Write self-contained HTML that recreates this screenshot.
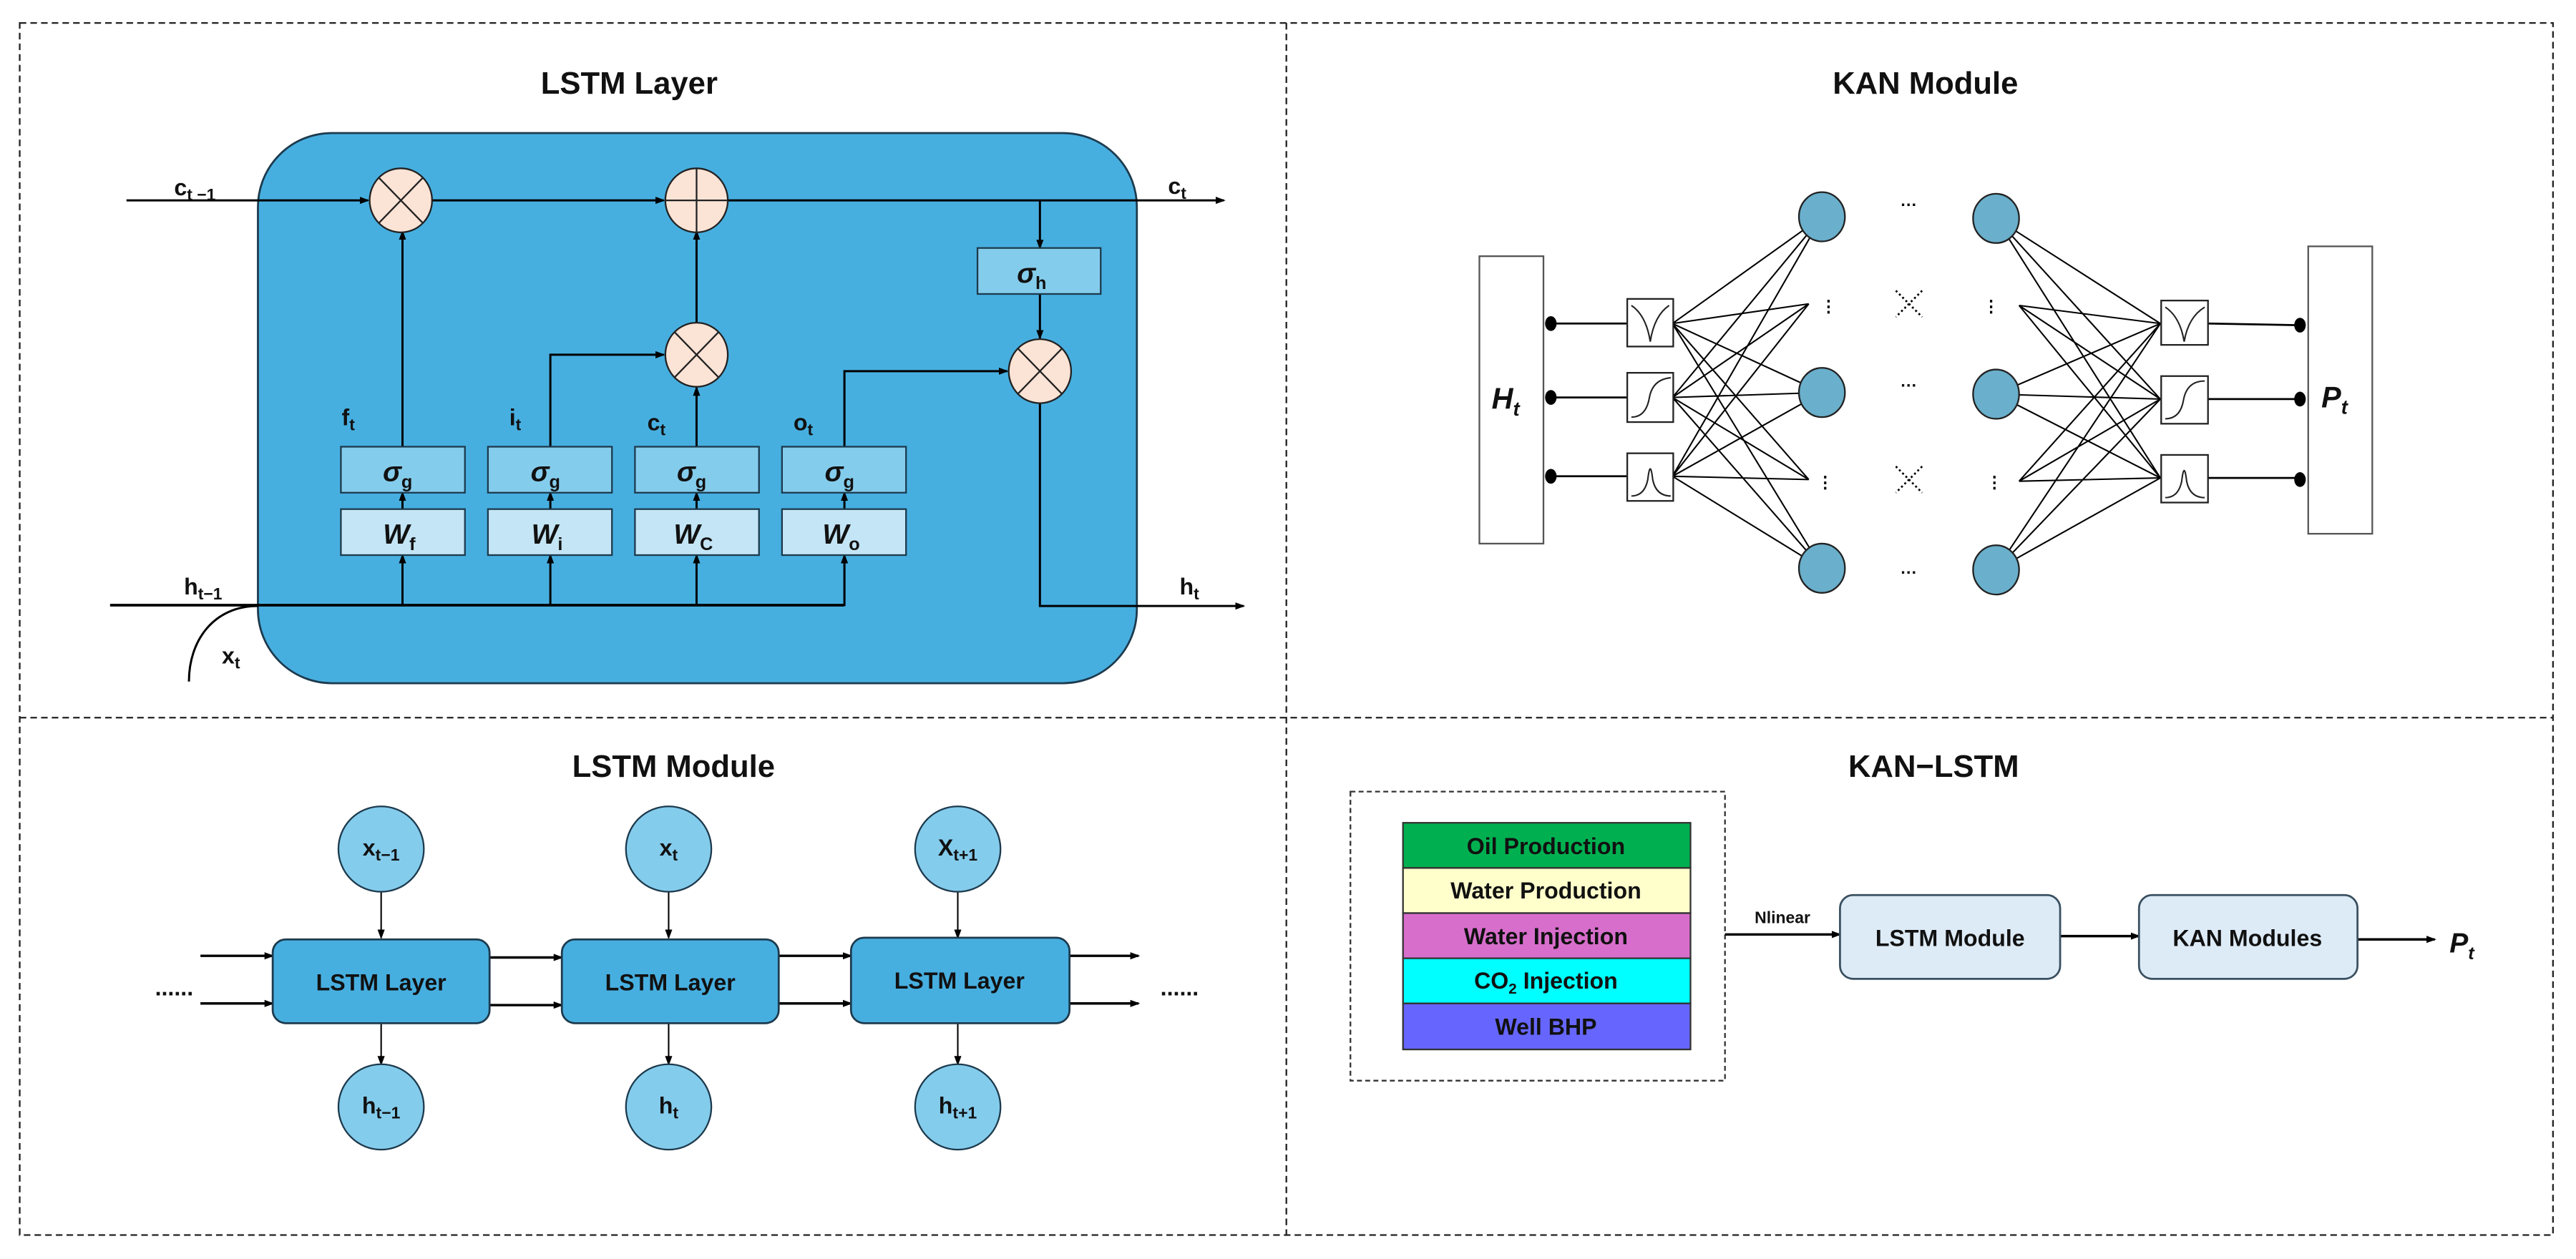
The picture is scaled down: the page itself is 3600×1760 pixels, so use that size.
<!DOCTYPE html>
<html><head><meta charset="utf-8"><style>
html,body{margin:0;padding:0;background:#fff;}
svg{display:block;}
text{font-family:"Liberation Sans",sans-serif;}
</style></head><body>
<svg width="3600" height="1760" viewBox="0 0 1568 766.6" preserveAspectRatio="none" xmlns="http://www.w3.org/2000/svg">
<defs>
<marker id="a" markerWidth="6" markerHeight="6" refX="5" refY="3" orient="auto" markerUnits="userSpaceOnUse"><path d="M0,0.8 L6,3 L0,5.2z" fill="#000"/></marker>
</defs>
<!-- frame -->
<g fill="none" stroke="#222" stroke-width="1" stroke-dasharray="4,2.5">
<rect x="12" y="14" width="1542" height="738"/>
<line x1="783" y1="14" x2="783" y2="752"/>
<line x1="12" y1="437" x2="1554" y2="437"/>
</g>
<g font-weight="bold" font-size="19" text-anchor="middle" fill="#111">
<text x="383" y="57">LSTM Layer</text>
<text x="1172" y="57">KAN Module</text>
<text x="410" y="473">LSTM Module</text>
<text x="1177" y="473">KAN−LSTM</text>
</g>

<!-- LSTM Layer cell -->
<rect x="157" y="81" width="535" height="335" rx="45" fill="#47AFE0" stroke="#1d3a4d" stroke-width="1.2"/>
<g stroke="#000" stroke-width="1.3" fill="none">
<line x1="77" y1="122" x2="224" y2="122" marker-end="url(#a)"/>
<line x1="263" y1="122" x2="404" y2="122" marker-end="url(#a)"/>
<line x1="443" y1="122" x2="745" y2="122" marker-end="url(#a)"/>
<line x1="633" y1="122" x2="633" y2="151" marker-end="url(#a)"/>
<line x1="633" y1="179" x2="633" y2="206" marker-end="url(#a)"/>
<line x1="245" y1="272" x2="245" y2="141" marker-end="url(#a)"/>
<polyline points="335,272 335,216 404,216" marker-end="url(#a)"/>
<line x1="424" y1="272" x2="424" y2="236" marker-end="url(#a)"/>
<line x1="424" y1="197" x2="424" y2="141" marker-end="url(#a)"/>
<polyline points="514,272 514,226 613,226" marker-end="url(#a)"/>
<polyline points="633,245 633,369 757,369" marker-end="url(#a)"/>
<line x1="67" y1="368.5" x2="514" y2="368.5" stroke-width="1.6"/>
<path d="M115,415 C115,390 130,369 157,369"/>
<line x1="245" y1="369" x2="245" y2="338" marker-end="url(#a)"/>
<line x1="335" y1="369" x2="335" y2="338" marker-end="url(#a)"/>
<line x1="424" y1="369" x2="424" y2="338" marker-end="url(#a)"/>
<line x1="514" y1="369" x2="514" y2="338" marker-end="url(#a)"/>
<line x1="245" y1="310" x2="245" y2="300" marker-end="url(#a)"/>
<line x1="335" y1="310" x2="335" y2="300" marker-end="url(#a)"/>
<line x1="424" y1="310" x2="424" y2="300" marker-end="url(#a)"/>
<line x1="514" y1="310" x2="514" y2="300" marker-end="url(#a)"/>
</g>
<g stroke="#222" stroke-width="1" fill="#FBE3D5">
<ellipse cx="244" cy="122" rx="19" ry="19.5"/>
<ellipse cx="424" cy="122" rx="19" ry="19.5"/>
<ellipse cx="424" cy="216" rx="19" ry="19.5"/>
<ellipse cx="633" cy="226" rx="19" ry="19.5"/>
</g>
<g stroke="#222" stroke-width="1">
<path d="M230.6,108.2 L257.4,135.8 M257.4,108.2 L230.6,135.8"/>
<path d="M424,102.5 V141.5 M405,122 H443"/>
<path d="M410.6,202.2 L437.4,229.8 M437.4,202.2 L410.6,229.8"/>
<path d="M619.6,212.2 L646.4,239.8 M646.4,212.2 L619.6,239.8"/>
</g>
<g stroke="#1d3a4d" stroke-width="1">
<rect x="595" y="151" width="75" height="28" fill="#84CCEC"/>
<rect x="207.5" y="272" width="75.5" height="28" fill="#84CCEC"/>
<rect x="297" y="272" width="75.5" height="28" fill="#84CCEC"/>
<rect x="386.5" y="272" width="75.5" height="28" fill="#84CCEC"/>
<rect x="476" y="272" width="75.5" height="28" fill="#84CCEC"/>
<rect x="207.5" y="310" width="75.5" height="28" fill="#C3E5F5"/>
<rect x="297" y="310" width="75.5" height="28" fill="#C3E5F5"/>
<rect x="386.5" y="310" width="75.5" height="28" fill="#C3E5F5"/>
<rect x="476" y="310" width="75.5" height="28" fill="#C3E5F5"/>
</g>
<g font-family="Liberation Serif,serif" font-style="italic" font-weight="bold" font-size="17" fill="#111" text-anchor="middle">
<text x="628" y="172">σ<tspan font-family="Liberation Sans,sans-serif" font-style="normal" font-size="11" dy="4">h</tspan></text>
<text x="242" y="293">σ<tspan font-family="Liberation Sans,sans-serif" font-style="normal" font-size="11" dy="4">g</tspan></text>
<text x="332" y="293">σ<tspan font-family="Liberation Sans,sans-serif" font-style="normal" font-size="11" dy="4">g</tspan></text>
<text x="421" y="293">σ<tspan font-family="Liberation Sans,sans-serif" font-style="normal" font-size="11" dy="4">g</tspan></text>
<text x="511" y="293">σ<tspan font-family="Liberation Sans,sans-serif" font-style="normal" font-size="11" dy="4">g</tspan></text>
<text x="243" y="331">W<tspan font-family="Liberation Sans,sans-serif" font-style="normal" font-size="11" dy="4">f</tspan></text>
<text x="333" y="331">W<tspan font-family="Liberation Sans,sans-serif" font-style="normal" font-size="11" dy="4">i</tspan></text>
<text x="422" y="331">W<tspan font-family="Liberation Sans,sans-serif" font-style="normal" font-size="11" dy="4">C</tspan></text>
<text x="512" y="331">W<tspan font-family="Liberation Sans,sans-serif" font-style="normal" font-size="11" dy="4">o</tspan></text>
</g>
<g font-weight="bold" font-size="14" fill="#111">
<text x="106" y="119">c<tspan font-size="10" dy="3">t −1</tspan></text>
<text x="711" y="118">c<tspan font-size="10" dy="3">t</tspan></text>
<text x="208" y="259">f<tspan font-size="10" dy="3">t</tspan></text>
<text x="310" y="259">i<tspan font-size="10" dy="3">t</tspan></text>
<text x="394" y="262">c<tspan font-size="10" dy="3">t</tspan></text>
<text x="483" y="262">o<tspan font-size="10" dy="3">t</tspan></text>
<text x="112" y="362">h<tspan font-size="10" dy="3">t−1</tspan></text>
<text x="718" y="362">h<tspan font-size="10" dy="3">t</tspan></text>
<text x="135" y="404">x<tspan font-size="10" dy="3">t</tspan></text>
</g>

<!-- KAN module -->
<g stroke="#555" stroke-width="1" fill="#fff">
<rect x="900.5" y="156" width="39" height="175"/>
<rect x="1405" y="150" width="39" height="175"/>
</g>
<g stroke="#000" stroke-width="0.9" fill="none">
<!-- left connections -->
<path d="M1018,197 L1109,132 M1018,197 L1101,185 M1018,197 L1109,239 M1018,197 L1101,292 M1018,197 L1109,346
M1018,242 L1109,132 M1018,242 L1101,185 M1018,242 L1109,239 M1018,242 L1101,292 M1018,242 L1109,346
M1018,290 L1109,132 M1018,290 L1101,185 M1018,290 L1109,239 M1018,290 L1101,292 M1018,290 L1109,346"/>
<path d="M1315,197 L1215,133 M1315,197 L1229,186 M1315,197 L1215,240 M1315,197 L1229,293 M1315,197 L1215,347
M1315,243 L1215,133 M1315,243 L1229,186 M1315,243 L1215,240 M1315,243 L1229,293 M1315,243 L1215,347
M1315,291 L1215,133 M1315,291 L1229,186 M1315,291 L1215,240 M1315,291 L1229,293 M1315,291 L1215,347"/>
<path d="M944,197 H990 M944,242 H990 M944,290 H990 M1344,197 L1400,198 M1344,243 H1400 M1344,291 H1400" stroke-width="1.2"/>
</g>
<g fill="#000">
<ellipse cx="944" cy="197" rx="3.5" ry="4.5"/><ellipse cx="944" cy="242" rx="3.5" ry="4.5"/><ellipse cx="944" cy="290" rx="3.5" ry="4.5"/>
<ellipse cx="1400" cy="198" rx="3.5" ry="4.5"/><ellipse cx="1400" cy="243" rx="3.5" ry="4.5"/><ellipse cx="1400" cy="292" rx="3.5" ry="4.5"/>
</g>
<g stroke="#222" stroke-width="1" fill="#fff">
<rect x="990.5" y="182" width="28" height="29"/>
<rect x="990.5" y="227" width="28" height="30"/>
<rect x="990.5" y="276" width="28" height="29"/>
<rect x="1315.5" y="183" width="28.5" height="27"/>
<rect x="1315.5" y="229" width="28.5" height="29"/>
<rect x="1315.5" y="277" width="28.5" height="29"/>
</g>
<g stroke="#222" stroke-width="0.9" fill="none">
<path d="M993,186 Q1002,192 1004.5,208 Q1007,192 1016,186"/>
<path d="M993,254 Q1002,254 1004,242 Q1006,231 1017,230"/>
<path d="M993,302 Q1001,302 1003,292 Q1004.5,279 1006,292 Q1008,302 1017,302"/>
<path d="M1318,187 Q1327,193 1329.5,208 Q1332,193 1342,187"/>
<path d="M1318,255 Q1327,255 1329,244 Q1331,232 1342,232"/>
<path d="M1318,303 Q1326,303 1328,293 Q1329.5,280 1331,293 Q1333,303 1342,303"/>
</g>
<g fill="#6AAFCB" stroke="#222" stroke-width="1">
<ellipse cx="1109" cy="132" rx="14" ry="15"/>
<ellipse cx="1109" cy="239" rx="14" ry="15"/>
<ellipse cx="1109" cy="346" rx="14" ry="15"/>
<ellipse cx="1215" cy="133" rx="14" ry="15"/>
<ellipse cx="1215" cy="240" rx="14" ry="15"/>
<ellipse cx="1215" cy="347" rx="14" ry="15"/>
</g>
<g fill="#000" font-size="10" text-anchor="middle" font-weight="bold">
<text x="1162" y="128">···</text><text x="1162" y="238">···</text><text x="1162" y="352">···</text>
<text x="1113" y="190">⋮</text><text x="1212" y="190">⋮</text>
<text x="1111" y="297">⋮</text><text x="1214" y="297">⋮</text>
</g>
<g stroke="#000" stroke-width="1.2" stroke-dasharray="1.2,1.6">
<path d="M1154,177 L1170,193 M1170,177 L1154,193"/>
<path d="M1154,284 L1170,300 M1170,284 L1154,300"/>
</g>
<g font-family="Liberation Serif,serif" font-style="italic" font-weight="bold" font-size="18" fill="#111">
<text x="908" y="249">H<tspan font-size="12" dy="4">t</tspan></text>
<text x="1413" y="248">P<tspan font-size="12" dy="4">t</tspan></text>
</g>

<!-- LSTM module -->
<g stroke="#000" stroke-width="1.5" fill="none">
<line x1="122" y1="582" x2="166" y2="582" marker-end="url(#a)"/>
<line x1="122" y1="611" x2="166" y2="611" marker-end="url(#a)"/>
<line x1="298" y1="583" x2="342" y2="583" marker-end="url(#a)"/>
<line x1="298" y1="612" x2="342" y2="612" marker-end="url(#a)"/>
<line x1="474" y1="582" x2="518" y2="582" marker-end="url(#a)"/>
<line x1="474" y1="611" x2="518" y2="611" marker-end="url(#a)"/>
<line x1="651" y1="582" x2="693" y2="582" marker-end="url(#a)"/>
<line x1="651" y1="611" x2="693" y2="611" marker-end="url(#a)"/>
</g>
<g stroke="#000" stroke-width="0.9">
<line x1="232" y1="543" x2="232" y2="571" marker-end="url(#a)"/>
<line x1="407" y1="543" x2="407" y2="571" marker-end="url(#a)"/>
<line x1="583" y1="543" x2="583" y2="571" marker-end="url(#a)"/>
<line x1="232" y1="623" x2="232" y2="648" marker-end="url(#a)"/>
<line x1="407" y1="623" x2="407" y2="648" marker-end="url(#a)"/>
<line x1="583" y1="623" x2="583" y2="648" marker-end="url(#a)"/>
</g>
<g fill="#47AFE0" stroke="#1d3a4d" stroke-width="1.2">
<rect x="166" y="572" width="132" height="51" rx="8"/>
<rect x="342" y="572" width="132" height="51" rx="8"/>
<rect x="518" y="571" width="133" height="52" rx="8"/>
</g>
<g fill="#84CCEC" stroke="#1d3a4d" stroke-width="1">
<circle cx="232" cy="517" r="26"/><circle cx="407" cy="517" r="26"/><circle cx="583" cy="517" r="26"/>
<circle cx="232" cy="674" r="26"/><circle cx="407" cy="674" r="26"/><circle cx="583" cy="674" r="26"/>
</g>
<g font-weight="bold" font-size="14" fill="#111" text-anchor="middle">
<text x="232" y="603">LSTM  Layer</text>
<text x="408" y="603">LSTM  Layer</text>
<text x="584" y="602">LSTM  Layer</text>
<text x="106" y="606">......</text><text x="718" y="606">......</text>
<text x="232" y="521">x<tspan font-size="10" dy="3">t−1</tspan></text>
<text x="407" y="521">x<tspan font-size="10" dy="3">t</tspan></text>
<text x="583" y="521">X<tspan font-size="10" dy="3">t+1</tspan></text>
<text x="232" y="678">h<tspan font-size="10" dy="3">t−1</tspan></text>
<text x="407" y="678">h<tspan font-size="10" dy="3">t</tspan></text>
<text x="583" y="678">h<tspan font-size="10" dy="3">t+1</tspan></text>
</g>

<!-- KAN-LSTM -->
<rect x="822" y="482" width="228" height="176" fill="none" stroke="#333" stroke-width="1" stroke-dasharray="3,2"/>
<g stroke="#333" stroke-width="1">
<rect x="854" y="501" width="175" height="27.5" fill="#00B050"/>
<rect x="854" y="528.5" width="175" height="27.5" fill="#FFFFCC"/>
<rect x="854" y="556" width="175" height="27.5" fill="#D86ECC"/>
<rect x="854" y="583.5" width="175" height="27.5" fill="#00FFFF"/>
<rect x="854" y="611" width="175" height="28" fill="#6666FF"/>
</g>
<g font-weight="bold" font-size="14" fill="#111" text-anchor="middle">
<text x="941" y="520">Oil Production</text>
<text x="941" y="547">Water Production</text>
<text x="941" y="575">Water Injection</text>
<text x="941" y="602">CO<tspan font-size="9" dy="3">2</tspan><tspan dy="-3"> Injection</tspan></text>
<text x="941" y="630">Well BHP</text>
</g>
<text x="1085" y="562" font-size="10" font-weight="bold" text-anchor="middle" fill="#111">Nlinear</text>
<g stroke="#000" stroke-width="1.5">
<line x1="1050" y1="569" x2="1120" y2="569" marker-end="url(#a)"/>
<line x1="1254" y1="570" x2="1302" y2="570" marker-end="url(#a)"/>
<line x1="1435" y1="572" x2="1482" y2="572" marker-end="url(#a)"/>
</g>
<g fill="#DDEBF7" stroke="#3a5060" stroke-width="1.2">
<rect x="1120" y="545" width="134" height="51" rx="8"/>
<rect x="1302" y="545" width="133" height="51" rx="8"/>
</g>
<g font-weight="bold" font-size="14" fill="#111" text-anchor="middle">
<text x="1187" y="576">LSTM Module</text>
<text x="1368" y="576">KAN Modules</text>
</g>
<text x="1491" y="580" font-family="Liberation Serif,serif" font-style="italic" font-weight="bold" font-size="17" fill="#111">P<tspan font-size="11" dy="4">t</tspan></text>
</svg>
</body></html>
